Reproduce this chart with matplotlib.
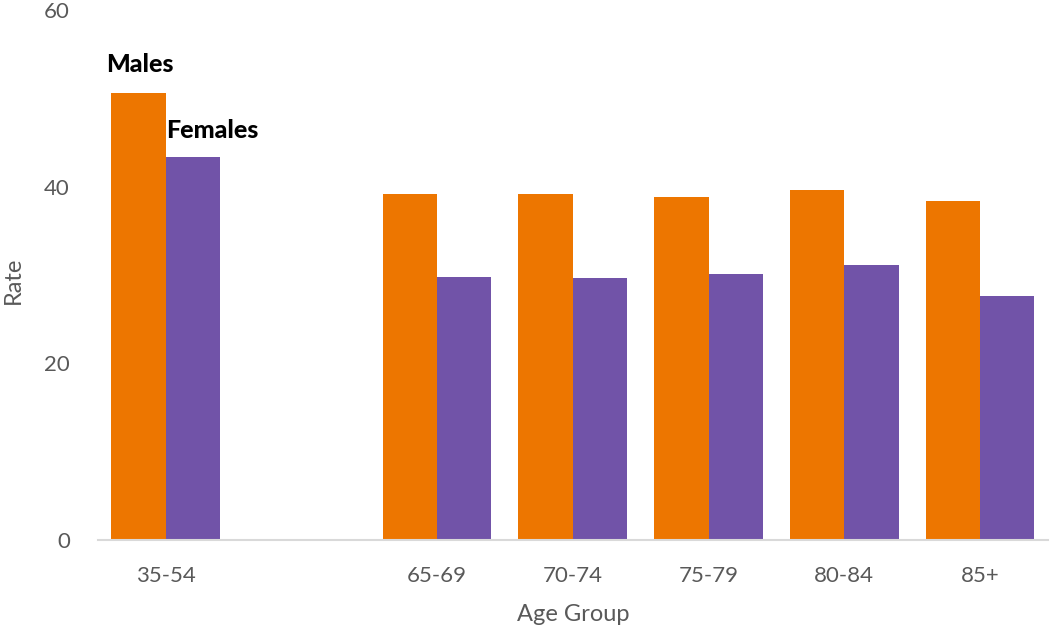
import matplotlib.pyplot as plt
import numpy as np

# Data (blank category has no bars)
age_groups = ["35-54", "", "65-69", "70-74", "75-79", "80-84", "85+"]
males = [50.6, np.nan, 39.2, 39.2, 38.8, 39.6, 38.4]
females = [43.4, np.nan, 29.8, 29.7, 30.1, 31.1, 27.6]

orange = "#ED7600"
purple = "#7153A8"
grey = "#595959"

plt.rcParams["font.family"] = ["Lato", "DejaVu Sans"]

fig = plt.figure(figsize=(10.5, 6.32), dpi=100)
ax = fig.add_axes([0.093, 0.1456, 0.905, 0.8386])

x = np.arange(len(age_groups))
w = 0.4
ax.bar(x - w / 2, males, w, color=orange)
ax.bar(x + w / 2, females, w, color=purple)

# series names sit above the first pair of bars
ax.text(x[0] - w / 2 + 0.01, males[0] + 3.2, "Males", ha="center", va="center",
        fontsize=18, fontweight="black", color="black")
ax.text(x[0] + 0.005, females[0] + 3.0, "Females", ha="left", va="center",
        fontsize=18, fontweight="black", color="black")

ax.set_xlim(-0.5, 6.5)
ax.set_ylim(0, 60)
ax.set_yticks([0, 20, 40, 60])
ax.set_xticks(x)
ax.set_xticklabels(age_groups)
ax.tick_params(axis="both", length=0, labelsize=16, colors=grey)
ax.tick_params(axis="x", pad=19)
ax.tick_params(axis="y", pad=20)

for side in ["top", "right", "left"]:
    ax.spines[side].set_visible(False)
ax.spines["bottom"].set_color("#D9D9D9")
ax.spines["bottom"].set_linewidth(1.5)

ax.set_xlabel("Age Group", fontsize=17, color=grey)
ax.set_ylabel("Rate", fontsize=17, color=grey)
ax.xaxis.set_label_coords(0.5, -0.12)
ax.yaxis.set_label_coords(-0.078, 0.49)

fig.savefig("out.png", dpi=100)
